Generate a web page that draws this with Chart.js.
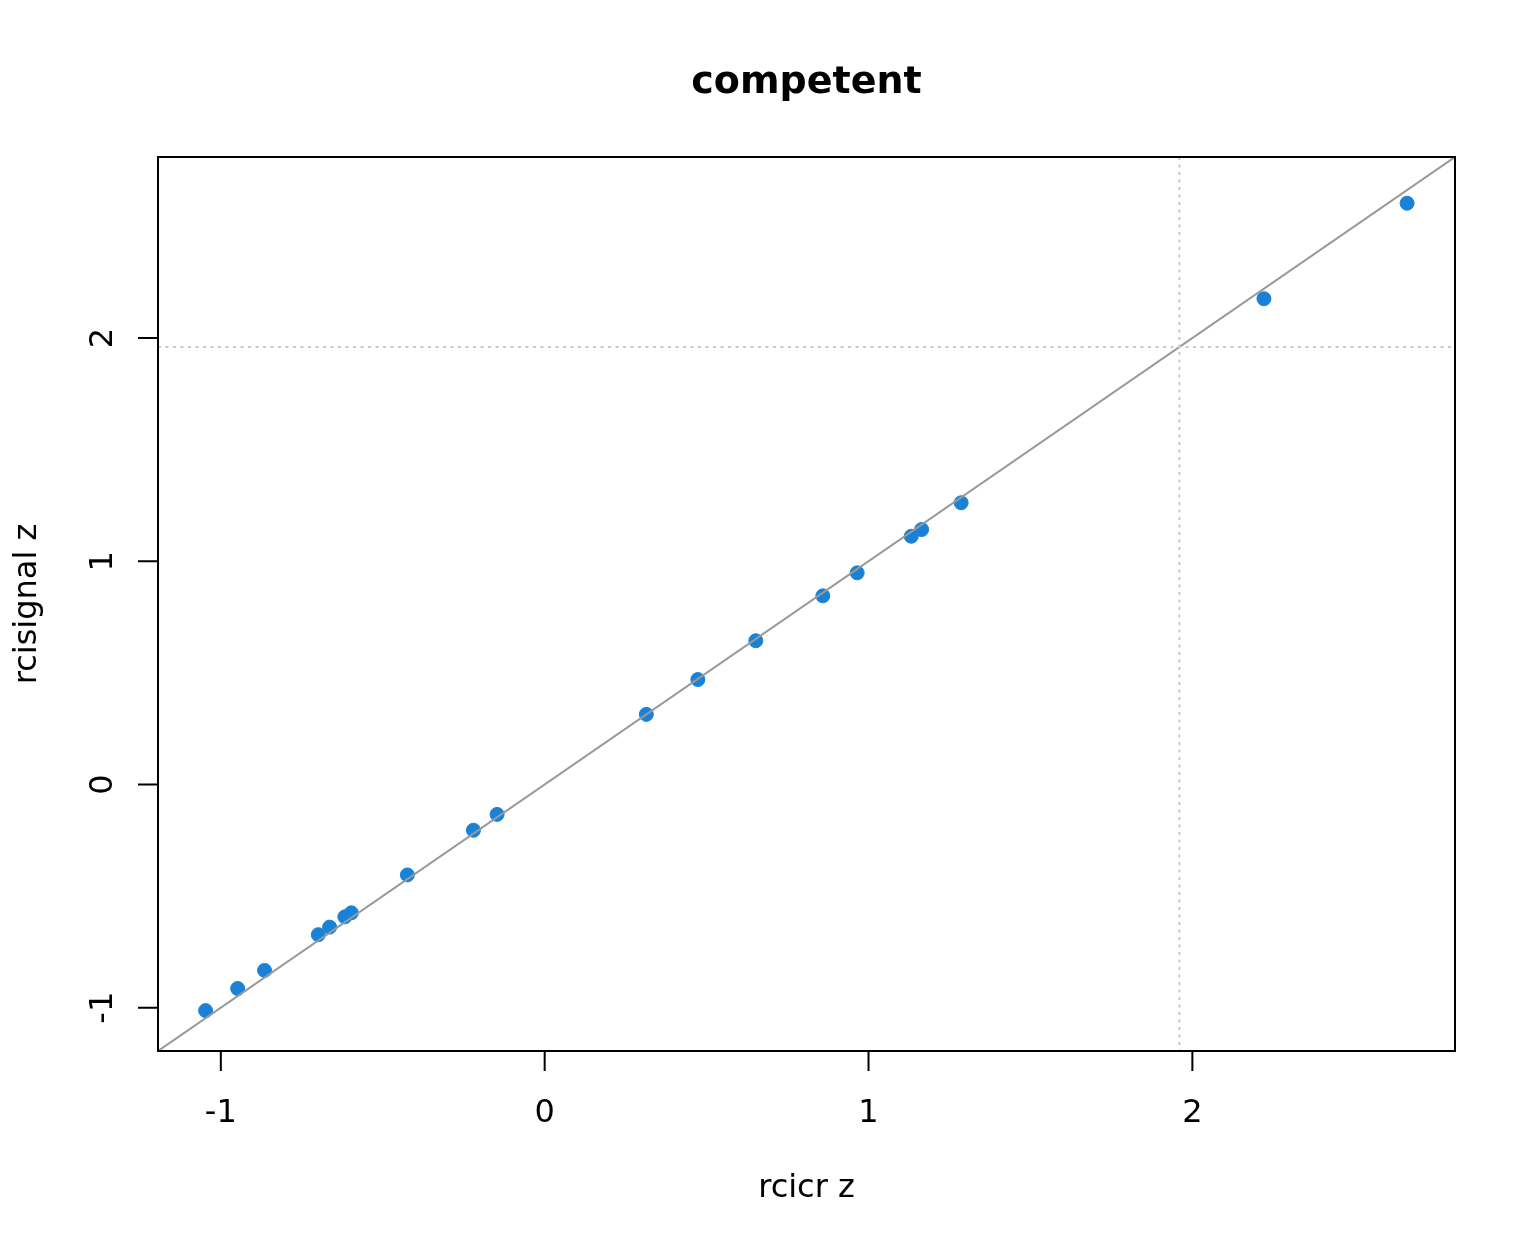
<!DOCTYPE html>
<html lang="en">
<head>
  <meta charset="UTF-8"/>
  <title>competent</title>
  <script src="https://cdn.jsdelivr.net/npm/chart.js"></script>
  <style>
    * { box-sizing: border-box; margin: 0; padding: 0; }
    body { background: #fff; }
    #wrap { position: relative; width: 1536px; height: 1248px; }
  </style>
</head>
<body>
  <div id="wrap"><canvas id="plot"></canvas></div>

  <script>
    // values
    const rcicrZ = [-1.047, -0.948, -0.865, -0.699, -0.664, -0.617, -0.597, -0.424, -0.220, -0.147,
                    0.314, 0.473, 0.652, 0.859, 0.965, 1.132, 1.164, 1.286, 2.221, 2.663];
    const rcisignalZ = [-1.013, -0.914, -0.833, -0.673, -0.639, -0.593, -0.575, -0.405, -0.205, -0.134,
                        0.314, 0.470, 0.644, 0.845, 0.948, 1.112, 1.142, 1.262, 2.176, 2.604];
    const tickValues = [-1, 0, 1, 2];
    const tickLabels = ['-1', '0', '1', '2'];
    const cutoff = 1.96;
    const axisMin = -1.194, axisMax = 2.811;

    const titleText = 'competent';
    const xTitle = 'rcicr z';
    const yTitle = 'rcisignal z';

    const FONT = '"DejaVu Sans", sans-serif';

    // R style frame, ticks, labels and reference lines
    const rFrame = {
      id: 'rFrame',
      afterDatasetsDraw(chart) {
        const { ctx, chartArea: a, scales: { x, y } } = chart;
        ctx.save();

        // reference lines, clipped to the plot region
        ctx.beginPath();
        ctx.rect(a.left, a.top, a.right - a.left, a.bottom - a.top);
        ctx.clip();

        ctx.strokeStyle = '#999999';
        ctx.lineWidth = 2;
        ctx.beginPath();
        ctx.moveTo(x.getPixelForValue(axisMin), y.getPixelForValue(axisMin));
        ctx.lineTo(x.getPixelForValue(axisMax), y.getPixelForValue(axisMax));
        ctx.stroke();

        ctx.strokeStyle = '#c8c8c8';
        ctx.setLineDash([3, 4.5]);
        ctx.beginPath();
        const hx = y.getPixelForValue(cutoff);
        ctx.moveTo(a.left, hx); ctx.lineTo(a.right, hx);
        const vx = x.getPixelForValue(cutoff);
        ctx.moveTo(vx, a.top); ctx.lineTo(vx, a.bottom);
        ctx.stroke();
        ctx.restore();

        ctx.save();
        // box
        ctx.strokeStyle = '#000';
        ctx.lineWidth = 2;
        ctx.strokeRect(a.left, a.top, a.right - a.left, a.bottom - a.top);

        // ticks
        ctx.beginPath();
        tickValues.forEach(v => {
          const px = x.getPixelForValue(v);
          ctx.moveTo(px, a.bottom); ctx.lineTo(px, a.bottom + 20);
          const py = y.getPixelForValue(v);
          ctx.moveTo(a.left, py); ctx.lineTo(a.left - 20, py);
        });
        ctx.stroke();

        // tick labels
        ctx.fillStyle = '#000';
        ctx.font = '32px ' + FONT;
        ctx.textAlign = 'center';
        ctx.textBaseline = 'alphabetic';
        tickValues.forEach((v, i) => {
          ctx.fillText(tickLabels[i], x.getPixelForValue(v), 1122);
        });
        tickValues.forEach((v, i) => {
          ctx.save();
          ctx.translate(112, y.getPixelForValue(v));
          ctx.rotate(-Math.PI / 2);
          ctx.fillText(tickLabels[i], 0, 0);
          ctx.restore();
        });

        // axis titles
        const cx = (a.left + a.right) / 2;
        ctx.fillText(xTitle, cx, 1197);
        ctx.save();
        ctx.translate(36, (a.top + a.bottom) / 2);
        ctx.rotate(-Math.PI / 2);
        ctx.fillText(yTitle, 0, 0);
        ctx.restore();

        // main title
        ctx.font = 'bold 38px ' + FONT;
        ctx.fillText(titleText, cx, 93);
        ctx.restore();
      }
    };

    const points = rcicrZ.map((v, i) => ({ x: v, y: rcisignalZ[i] }));

    new Chart(document.getElementById('plot'), {
      type: 'scatter',
      data: {
        datasets: [{
          data: points,
          backgroundColor: '#1a82d6',
          borderColor: '#1a82d6',
          borderWidth: 1,
          pointRadius: 7,
          pointHoverRadius: 7
        }]
      },
      options: {
        responsive: true,
        maintainAspectRatio: false,
        devicePixelRatio: 1,
        animation: false,
        layout: { padding: { left: 158, right: 81, top: 157, bottom: 197 } },
        scales: {
          x: { type: 'linear', min: axisMin, max: axisMax, display: false },
          y: { type: 'linear', min: axisMin, max: axisMax, display: false }
        },
        plugins: {
          legend: { display: false },
          title: { display: false },
          tooltip: { enabled: false }
        }
      },
      plugins: [rFrame]
    });
  </script>
</body>
</html>
